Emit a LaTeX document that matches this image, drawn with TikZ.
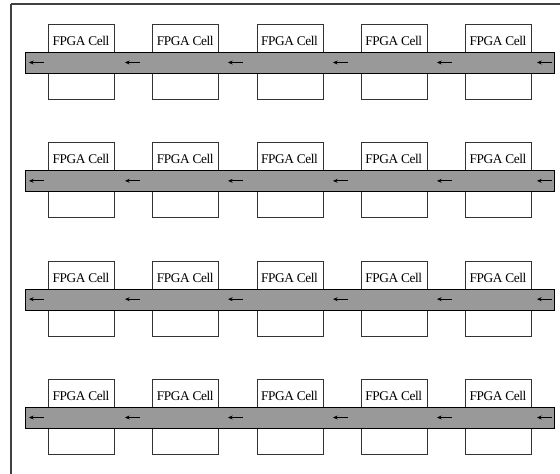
\documentclass[tikz,border=0pt]{standalone}
\usepackage{fontspec}
\setmainfont{Liberation Serif}
\usetikzlibrary{arrows.meta}
\begin{document}
\begin{tikzpicture}[x=0.75pt,y=-0.75pt,
  cellbox/.style={draw=black!80, line width=0.7pt, fill=white, inner sep=0pt, minimum width=49.5pt, minimum height=56.25pt, anchor=north west},
  busbar/.style={draw=black, line width=0.7pt, fill=black!40, inner sep=0pt, minimum width=396.75pt, minimum height=15.75pt, anchor=north west},
  celltext/.style={font=\fontsize{10}{12}\selectfont\addfontfeatures{LetterSpace=-3}, inner sep=0pt},
  flow/.style={-{Stealth[length=3.5pt,width=3pt]}, line width=0.7pt}]
\useasboundingbox (0,0) rectangle (560,474);
\fill[white] (0,0) rectangle (560,474);
\draw[black!75, line width=0.8pt] (11,4) -- (565,4);
\draw[black!75, line width=0.8pt] (11,4) -- (11,480);
\foreach \r [count=\i] in {0,118.33,236.67,355} {
  \foreach \cx [count=\j] in {48,152.25,256.5,360.75,465} {
    \node[cellbox] (c\i\j) at (\cx,24+\r) {};
    \node[celltext] (t\i\j) at (\cx+33,41+\r) {FPGA Cell};
  }
  \node[busbar] (b\i) at (25,52+\r) {};
  \foreach \ax [count=\k] in {29,125,228,333,437,537} {
    \coordinate (as\i\k) at (\ax+15,62.5+\r);
    \coordinate (ae\i\k) at (\ax,62.5+\r);
    \draw[flow] (as\i\k) -- (ae\i\k);
  }
}
\end{tikzpicture}
\end{document}
